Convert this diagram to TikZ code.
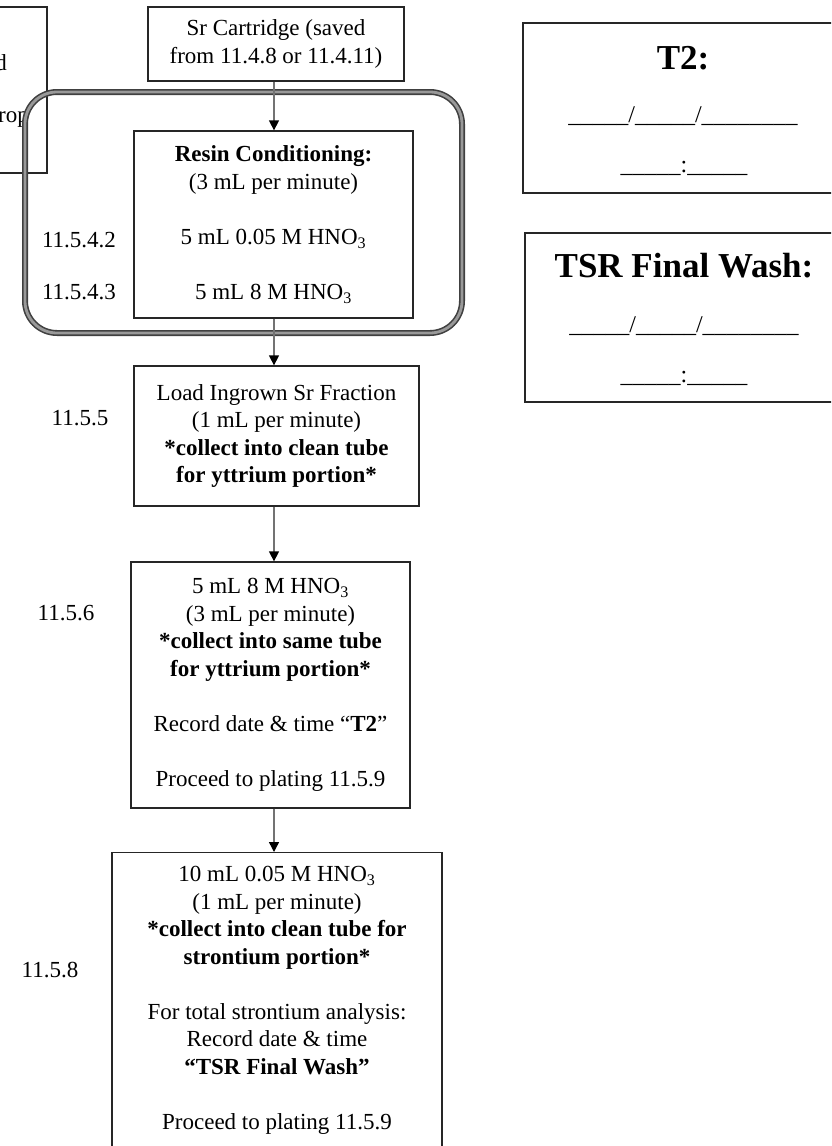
\documentclass[tikz,border=0pt]{standalone}
\usepackage{fontspec}
\setmainfont{Liberation Serif}
\usetikzlibrary{arrows.meta}
\newcommand{\bodyfs}{\fontsize{23}{27.5}\selectfont}
\newcommand{\bigfs}{\fontsize{35}{40}\selectfont}
\newcommand{\linefs}{\fontsize{24}{28}\selectfont}
\begin{document}
\begin{tikzpicture}[x=1pt,y=-1pt,
  boxbase/.style={draw=black!85, line width=1.3pt, inner sep=0pt, font=\bodyfs},
  box/.style={boxbase, align=center},
  lbl/.style={inner sep=0pt, font=\bodyfs},
  arr/.style={draw=black!55, line width=1.4pt, -{Triangle[width=10pt,length=10pt,color=black]}},
  frame/.style={draw=black!75, line width=1.6pt, double=black!40, double distance=2.8pt, rounded corners=32pt, minimum width=437pt, minimum height=241pt, inner sep=0pt}
]
\useasboundingbox (0,0) rectangle (831,1146);
\clip (0,0) rectangle (831,1146);

% cut-off box on the left
\node[boxbase, minimum width=77pt, minimum height=166pt] (lb) at (8.5,90) {};
\node[lbl, anchor=base east] (lbd) at (7,70) {d};
\node[lbl, anchor=base east] (lbr) at (29,122) {rop};

% group frame
\node[frame] (grp) at (243.5,212.5) {};

% main flow
\node[box, minimum width=256pt, minimum height=74pt] (sr) at (276,44)
  {Sr Cartridge (saved\\from 11.4.8 or 11.4.11)};
\node[box, minimum width=279pt, minimum height=187pt] (resin) at (273.5,224.5)
  {\textbf{Resin Conditioning:}\\(3 mL per minute)\\[27.5pt]5 mL 0.05 M HNO\textsubscript{3}\\[27.5pt]5 mL 8 M HNO\textsubscript{3}};
\node[box, minimum width=285pt, minimum height=140pt] (load) at (276.5,436)
  {Load Ingrown Sr Fraction\\(1 mL per minute)\\\textbf{*collect into clean tube}\\\textbf{for yttrium portion*}};
\node[box, minimum width=279pt, minimum height=246pt] (wash) at (270.5,685)
  {5 mL 8 M HNO\textsubscript{3}\\(3 mL per minute)\\\textbf{*collect into same tube}\\\textbf{for yttrium portion*}\\[27.5pt]Record date \& time “\textbf{T2}”\\[27.5pt]Proceed to plating 11.5.9};
\node[boxbase, anchor=north] (elute) at (277,852)
  {\parbox[c][320pt][t]{330pt}{\centering\vspace*{14pt}10 mL 0.05 M HNO\textsubscript{3}\\(1 mL per minute)\\\textbf{*collect into clean tube for}\\\textbf{strontium portion*}\\[27.5pt]For total strontium analysis:\\Record date \& time\\\textbf{“TSR Final Wash”}\\[27.5pt]Proceed to plating 11.5.9}};

% step labels
\node[lbl] (l542) at (79,240) {11.5.4.2};
\node[lbl] (l543) at (79,292) {11.5.4.3};
\node[lbl] (l55) at (80,418) {11.5.5};
\node[lbl] (l56) at (66,613) {11.5.6};
\node[lbl] (l58) at (50,970) {11.5.8};

% connectors
\coordinate (spine) at (274,0);
\draw[arr] (sr.south -| spine) -- (resin.north -| spine);
\draw[arr] (resin.south -| spine) -- (load.north -| spine);
\draw[arr] (load.south -| spine) -- (wash.north -| spine);
\draw[arr] (wash.south -| spine) -- (elute.north -| spine);

% record boxes on the right
\node[boxbase, minimum width=320pt, minimum height=170pt] (t2box) at (683,108) {};
\node[inner sep=0pt, font=\bigfs\bfseries] (t2title) at (683,58) {T2:};
\node[inner sep=0pt, anchor=base, font=\linefs] (t2date) at (683,122) {\_\_\_\_\_/\_\_\_\_\_/\_\_\_\_\_\_\_\_};
\node[inner sep=0pt, anchor=base, font=\linefs] (t2time) at (684,172) {\_\_\_\_\_:\_\_\_\_\_};

\node[boxbase, minimum width=318pt, minimum height=169pt] (tsrbox) at (684,317.5) {};
\node[inner sep=0pt, font=\bigfs\bfseries] (tsrtitle) at (684,266) {TSR Final Wash:};
\node[inner sep=0pt, anchor=base, font=\linefs] (tsrdate) at (684,332) {\_\_\_\_\_/\_\_\_\_\_/\_\_\_\_\_\_\_\_};
\node[inner sep=0pt, anchor=base, font=\linefs] (tsrtime) at (684,382) {\_\_\_\_\_:\_\_\_\_\_};
\end{tikzpicture}
\end{document}
